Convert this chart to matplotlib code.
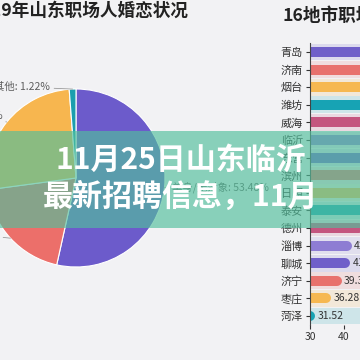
import numpy as np
import matplotlib.pyplot as plt
from matplotlib.patches import Rectangle

plt.rcParams['font.family'] = ['Noto Sans CJK SC', 'DejaVu Sans']

# 婚恋状况 (饼图)
status_labels = ['单身/无对象', '恋爱中', '已婚', '其他']
status_share = [53.48, 19.40, 25.90, 1.22]
status_colors = ['#6c5bcb', '#ec6f6a', '#f7b64f', '#1a9fae']

# 16地市 (条形图)
cities = ['青岛', '济南', '烟台', '潍坊', '威海', '临沂', '东营', '滨州',
          '日照', '泰安', '德州', '淄博', '聊城', '济宁', '枣庄', '菏泽']
city_rates = [55.20, 53.40, 52.30, 51.50, 50.60, 49.90, 49.10, 48.30,
              47.50, 46.80, 45.90, 42.31, 41.86, 39.37, 36.28, 31.52]
bar_colors = ['#6f5fc9', '#e8716d', '#f6b851', '#17a3b4', '#c4557f', '#8e7dd3']

W = H = 360
fig = plt.figure(figsize=(3.6, 3.6), dpi=100)
fig.patch.set_facecolor('#f2f2f4')


def px(x, y, w, h):
    # pixel box (from top-left) -> figure fraction
    return [x / W, 1 - (y + h) / H, w / W, h / H]


# ---- pie ----
cx, cy, r = 76, 178, 89
ax1 = fig.add_axes(px(cx - r, cy - r, 2 * r, 2 * r))
wedges, _ = ax1.pie(status_share, colors=status_colors, startangle=90,
                    counterclock=False, radius=1,
                    wedgeprops=dict(edgecolor='white', linewidth=0.8))
ax1.set_xlim(-1, 1)
ax1.set_ylim(-1, 1)
ax1.set_aspect('equal')

# label anchor in pixels and alignment
label_pos = [(172, 187, 'left'), (-1, 233, 'right'), (3, 116, 'right'), (50, 87, 'right')]
for w, name, v, (lx, ly, ha) in zip(wedges, status_labels, status_share, label_pos):
    th = np.deg2rad((w.theta1 + w.theta2) / 2)
    ax1.annotate(f'{name}: {v:.2f}%', xy=(np.cos(th), np.sin(th)),
                 xytext=((lx - cx) / r, (cy - ly) / r), ha=ha, va='center',
                 fontsize=7.5, color='#5e5e5e', annotation_clip=False,
                 arrowprops=dict(arrowstyle='-', color='#9a9a9a', lw=0.6,
                                 shrinkA=1, shrinkB=0))

# ---- bars ----
ax2 = fig.add_axes(px(310, 43.2, 136, 281.6))
ax2.set_facecolor('none')
y = np.arange(len(cities))
colors = [bar_colors[i % len(bar_colors)] for i in y]
ax2.set_xlim(30, 70)
ax2.set_ylim(len(cities) - 0.5, -0.5)

ax2.barh(y, 40, left=30, height=0.95, color=colors, alpha=0.16, zorder=1)
# rounded bars: start left of the axis (clipped) so the cap sits at the value
cap = 5 / 3.4
ends = [v - cap for v in city_rates]
ax2.hlines(y, 30 - cap, ends, colors=colors, linewidth=7.2, capstyle='round', zorder=2)
for i, v in enumerate(city_rates):
    ax2.text(v + 0.6, i, f'{v:.2f}', va='center', fontsize=7.5, color='#333333')

ax2.set_yticks(y, cities)
ax2.set_xticks([30, 40, 50, 60, 70])
ax2.tick_params(axis='y', labelsize=8, colors='#333333', length=3, pad=2)
ax2.tick_params(axis='x', labelsize=7.5, colors='#333333', length=3, pad=2)
for s in ['top', 'right', 'bottom']:
    ax2.spines[s].set_visible(False)
ax2.spines['left'].set_color('#444444')
ax2.spines['left'].set_linewidth(0.8)
ax2.spines['left'].set_zorder(3)

# ---- titles ----
fig.text(188 / W, 1 - 11 / H, '2019年山东职场人婚恋状况', ha='right', va='center',
         fontsize=12.7, fontweight='bold', color='#222222')
fig.text(283 / W, 1 - 16 / H, '16地市职场人单身率', ha='left', va='center',
         fontsize=12.7, fontweight='bold', color='#222222')

# ---- banner overlay ----
fig.add_artist(Rectangle((0, 1 - 228 / H), 1, 97 / H, transform=fig.transFigure,
                         facecolor='#52bf9c', edgecolor='none', alpha=0.66, zorder=5))
fig.text(181 / W, 1 - 160 / H, '11月25日山东临沂', ha='center', va='center',
         fontsize=21.6, fontweight='bold', color='white', zorder=6)
fig.text(181 / W, 1 - 197 / H, '最新招聘信息，11月', ha='center', va='center',
         fontsize=21.6, fontweight='bold', color='white', zorder=6)

fig.savefig('out.png', dpi=100, facecolor=fig.get_facecolor())
